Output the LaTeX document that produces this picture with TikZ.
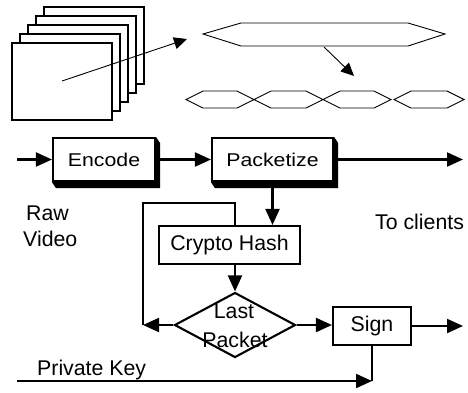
\documentclass[tikz,border=0pt]{standalone}
\usepackage{fontspec}
\setmainfont{Liberation Sans}
\usetikzlibrary{arrows.meta,shapes.geometric,calc}

\tikzset{
  lbl/.style={font=\fontsize{21.3}{26}\selectfont, inner sep=0pt},
  proc/.style={draw, line width=2.1pt, fill=white, inner sep=0pt,
    font=\fontsize{21.3}{26}\selectfont},
  decision/.style={draw, diamond, line width=2.1pt, inner sep=0pt,
    minimum width=121pt, minimum height=65pt},
  flow/.style={line width=2.1pt, -{Triangle[length=16pt,width=14pt]}},
  wire/.style={line width=2.1pt},
  pointer/.style={line width=0.9pt, -{Triangle[length=13pt,width=12pt]}},
  framebox/.style={draw, line width=2.1pt, fill=white},
  packet/.style={draw, line width=0.9pt},
}

% black extrusion under the lower right of a raised box
\newcommand{\extrude}[1]{%
  \fill ($(#1.south west)$) -- ($(#1.south west)+(4,6)$)
     -- ($(#1.south east)+(4,6)$) -- ($(#1.north east)+(4,6)$)
     -- ($(#1.north east)$) -- ($(#1.south east)$) -- cycle;}

\begin{document}
\begin{tikzpicture}[x=1pt, y=-1pt]
\useasboundingbox (0,0) rectangle (468,392);

% stack of video frames
\foreach \k in {4,3,2,1,0}
  \draw[framebox] ({12+8*\k},{43-9*\k}) rectangle ++(100,77);
\coordinate (framesrc) at (62,81);
\coordinate (framedst) at (187,39);
\draw[pointer] (framesrc) -- (framedst);

% stream split into packets
\draw[packet] (203,34) -- (241,23) -- (408,23) -- (445,34) -- (408,46) -- (241,46) -- cycle;
\coordinate (streamsrc) at (324,47);
\coordinate (streamdst) at (354,76);
\draw[pointer] (streamsrc) -- (streamdst);
\foreach \a/\b in {186/254, 254/323, 323/391, 394/464}
  \draw[packet] (\a,99.5) -- ({\a+17},91) -- ({\b-17},91) -- (\b,99.5)
     -- ({\b-17},108) -- ({\a+17},108) -- cycle;

% processing chain
\node[proc, minimum width=102pt, minimum height=43pt] (enc) at (104,159.5)
  {\scalebox{1}[0.87]{Encode}};
\node[proc, minimum width=121pt, minimum height=43pt] (pkt) at (272.5,159.5)
  {\scalebox{1}[0.87]{Packetize}};
\extrude{enc}
\extrude{pkt}
\node[proc, minimum width=141pt, minimum height=38pt] (hash) at (229.5,245) {Crypto Hash};
\node[decision] (last) at (235,325) {};
\node[lbl, anchor=base] (lastA) at (234,318) {Last};
\node[lbl, anchor=base] (lastB) at (235,347) {Packet};
\node[proc, minimum width=78pt, minimum height=38pt] (sign) at (372,326) {Sign};

% labels
\node[lbl, anchor=base west] (raw) at (26,220) {Raw};
\node[lbl, anchor=base west] (video) at (23,246) {Video};
\node[lbl, anchor=base west] (clients) at (375,229) {To clients};
\node[lbl, anchor=base west] (keylbl) at (37,375) {Private Key};

% connectors
\coordinate (src) at (17,159.5);
\coordinate (out) at (463,159.5);
\coordinate (signout) at (463,326);
\coordinate (loopend) at (143,325);
\coordinate (keysrc) at (17,381);
\coordinate (keyjoin) at (372,381);

\draw[flow] (src) -- (enc.west);
\draw[flow] (enc.east) -- (pkt.west);
\draw[flow] (pkt.east) -- (out);
\draw[flow] (pkt.south) -- (pkt.south |- hash.north);
\draw[flow] (hash.south -| last) -- (last.north);
\draw[wire] (hash.north -| last) -- ++(0,-22) -| (loopend);
\draw[flow] (last.west) -- (loopend);
\draw[flow] (last.east) -- (sign.west |- last.east);
\draw[flow] (sign.east) -- (signout);
\draw[wire] (sign.south) -- (keyjoin);
\draw[flow] (keysrc) -- (keyjoin);
\end{tikzpicture}
\end{document}
